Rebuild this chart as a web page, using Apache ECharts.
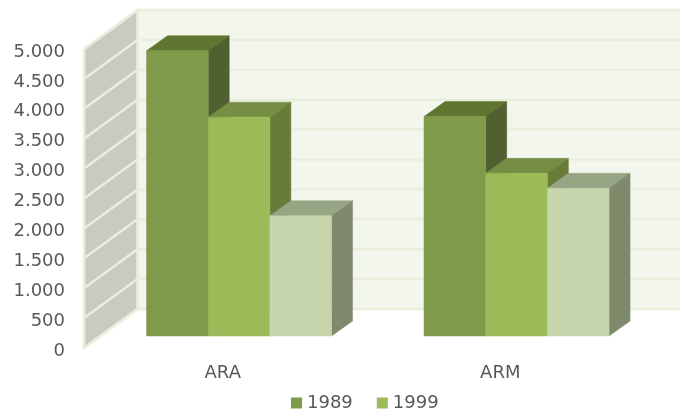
<!DOCTYPE html>
<html>
<head>
<meta charset="utf-8">
<style>
  html, body { margin: 0; padding: 0; background: #fff; }
  #chart { width: 680px; height: 409px; }
</style>
<script src="https://cdn.jsdelivr.net/npm/echarts@6/dist/echarts.min.js"></script>
</head>
<body>
<div id="chart"></div>
<script>
const categories = ['ARA', 'ARM']
const seriesNames = ['1989', '1999', '2009']
const values1989 = [4770, 3670]
const values1999 = [3660, 2720]
const valuesThird = [2010, 2470]
const yTicks = [0, 500, 1000, 1500, 2000, 2500, 3000, 3500, 4000, 4500, 5000]

// depth of the box, in pixels
const wallDx = 53.5
const wallDy = -39
const barShiftX = 16.3
const barShiftY = -12
const barDx = 21
const barDy = -15
const gapRatio = 4.5 // 3 bars + 150% gap
const gridColor = '#e9eedd'

function poly (points, fill, stroke) {
  return {
    type: 'polygon',
    shape: { points: points },
    style: { fill: fill, stroke: stroke || fill, lineWidth: stroke ? 2.5 : 0.5 }
  }
}

function barItem (slot, front, top, side) {
  return function (params, api) {
    const p = api.coord([api.value(0), api.value(1)])
    const base = api.coord([api.value(0), 0])
    const w = api.size([1, 0])[0] / gapRatio
    const x0 = p[0] + barShiftX + (slot - 1.5) * w
    const x1 = x0 + w
    const y0 = p[1] + barShiftY
    const y1 = base[1] + barShiftY
    return {
      type: 'group',
      children: [
        poly([[x0, y0], [x0 + barDx, y0 + barDy], [x1 + barDx, y0 + barDy], [x1, y0]], top),
        poly([[x1, y0], [x1 + barDx, y0 + barDy], [x1 + barDx, y1 + barDy], [x1, y1]], side),
        poly([[x0, y0], [x1, y0], [x1, y1], [x0, y1]], front)
      ]
    }
  }
}

function wallItem (params, api) {
  const size = api.size([1, 0])[0]
  const top = api.coord([0, 5000])
  const base = api.coord([0, 0])
  const l = top[0] - size / 2
  const r = top[0] + size * 1.5
  return {
    type: 'group',
    children: [
      poly([[l + wallDx, top[1] + wallDy], [r + wallDx, top[1] + wallDy], [r + wallDx, base[1] + wallDy], [l + wallDx, base[1] + wallDy]], '#f3f6ed', gridColor),
      poly([[l, top[1]], [l + wallDx, top[1] + wallDy], [l + wallDx, base[1] + wallDy], [l, base[1]]], '#c9cbc3', gridColor)
    ]
  }
}

function gridItem (params, api) {
  const size = api.size([1, 0])[0]
  const p = api.coord([0, api.value(1)])
  const l = p[0] - size / 2
  const r = p[0] + size * 1.5
  return {
    type: 'polyline',
    shape: { points: [[l, p[1]], [l + wallDx, p[1] + wallDy], [r + wallDx, p[1] + wallDy]] },
    style: { stroke: gridColor, lineWidth: 2.5, fill: 'none' }
  }
}

function pairs (vals) {
  return vals.map((v, i) => [i, v])
}

const myChart = echarts.init(document.getElementById('chart'), null, { renderer: 'canvas' })
myChart.setOption({
  animation: false,
  backgroundColor: '#fff',
  textStyle: { fontFamily: 'DejaVu Sans' },
  grid: { left: 84, right: 41, top: 49, bottom: 61, containLabel: false },
  legend: {
    data: ['1989', '1999'],
    left: 286,
    top: 389,
    icon: 'rect',
    itemWidth: 11,
    itemHeight: 11,
    itemGap: 24,
    selectedMode: false,
    textStyle: { color: '#595959', fontSize: 18, fontFamily: 'DejaVu Sans' }
  },
  xAxis: {
    type: 'category',
    data: categories,
    axisLine: { show: false },
    axisTick: { show: false },
    axisLabel: { color: '#595959', fontSize: 18, margin: 16, fontFamily: 'DejaVu Sans' }
  },
  yAxis: {
    type: 'value',
    min: 0,
    max: 5000,
    interval: 500,
    axisLine: { show: false },
    axisTick: { show: false },
    splitLine: { show: false },
    axisLabel: {
      color: '#595959',
      fontSize: 18,
      margin: 19,
      verticalAlign: 'top',
      lineHeight: 6,
      fontFamily: 'DejaVu Sans',
      formatter: (v) => (v >= 1000 ? Math.floor(v / 1000) + '.' + String(v % 1000).padStart(3, '0') : String(v))
    }
  },
  series: [
    { name: 'walls', type: 'custom', silent: true, clip: false, renderItem: wallItem, data: [[0, 5000]], z: 1 },
    { name: 'grid', type: 'custom', silent: true, clip: false, renderItem: gridItem, data: yTicks.map((v) => [0, v]), z: 2 },
    {
      name: seriesNames[0], type: 'custom', silent: true, clip: false, z: 3,
      itemStyle: { color: '#7f9a48' },
      renderItem: barItem(0, '#7f9a48', '#5f7530', '#506030'),
      data: pairs(values1989)
    },
    {
      name: seriesNames[1], type: 'custom', silent: true, clip: false, z: 4,
      itemStyle: { color: '#9bbb59' },
      renderItem: barItem(1, '#9bbb59', '#768e44', '#667c38'),
      data: pairs(values1999)
    },
    {
      name: seriesNames[2], type: 'custom', silent: true, clip: false, z: 5,
      itemStyle: { color: '#c7d6ac' },
      renderItem: barItem(2, '#c7d6ac', '#98a585', '#7f8a6d'),
      data: pairs(valuesThird)
    }
  ]
})
</script>
</body>
</html>
